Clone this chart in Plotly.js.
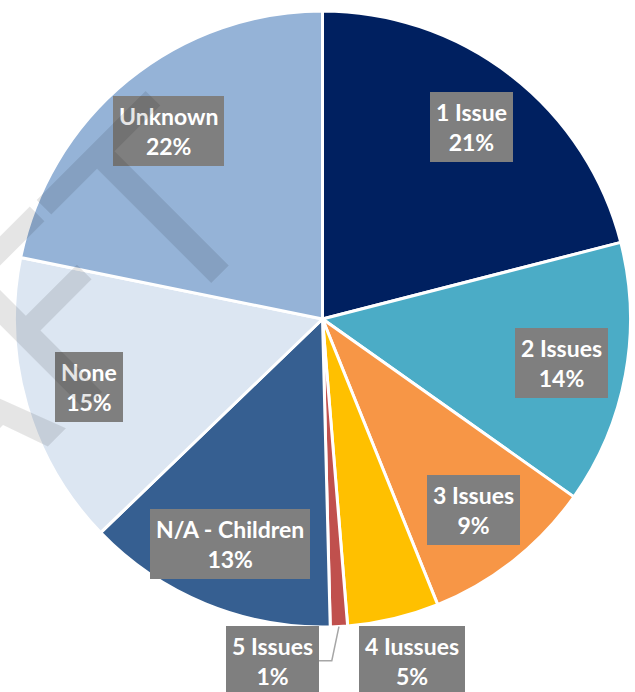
<!DOCTYPE html>
<html><head><meta charset="utf-8">
<script src="https://cdn.plot.ly/plotly-3.0.1.min.js"></script>
<style>html,body{margin:0;padding:0;background:#fff;overflow:hidden}</style>
</head><body><div id="chart" style="width:635px;height:692px"></div>
<script>
const categories = ["1 Issue", "2 Issues", "3 Issues", "4 Iussues", "5 Issues", "N/A - Children", "None", "Unknown"];
const values = [21.0, 13.8, 9.1, 4.8, 0.9, 13.2, 15.4, 21.8];
const colors = ["#002060", "#4BACC6", "#F79646", "#FFC000", "#C0504D", "#365F91", "#DCE6F2", "#95B3D7"];
const watermarkText = "DRAFT";

const W = 635, H = 692, CX = 322.5, CY = 319, R = 308;
const px = x => x / W, py = y => 1 - y / H;
const polar = (deg, r) => [CX + r * Math.sin(deg * Math.PI / 180), CY - r * Math.cos(deg * Math.PI / 180)];

const total = values.reduce((a, b) => a + b, 0);
const annotations = [], shapes = [];
const labelFont = {family: "Lato, 'Open Sans', sans-serif", size: 23, color: "#ffffff", weight: "bold"};
let cum = 0;
values.forEach((v, i) => {
  const frac = v / total;
  const mid = (cum + frac / 2) * 360;
  cum += frac;
  const text = "<b>" + categories[i] + "<br>" + Math.round(frac * 100) + "%</b>";
  const base = {text, showarrow: false, xref: "paper", yref: "paper", bgcolor: "#7F7F7F",
                borderpad: 6, borderwidth: 0, font: labelFont, align: "center"};
  if (frac >= 0.06) {
    const [x, y] = polar(mid, 0.79 * R);
    annotations.push(Object.assign({}, base, {x: px(x), y: py(y), xanchor: "center", yanchor: "middle"}));
  } else if (frac >= 0.02) {
    const [x, y] = polar(mid, 1.14 * R);
    annotations.push(Object.assign({}, base, {x: px(x + 9), y: py(y), xanchor: "center", yanchor: "middle"}));
  } else {
    const [ex, ey] = polar(mid, 1.0 * R);
    const [kx, ky] = polar(mid + 1.5, 1.11 * R);
    const bx = kx - 13;
    shapes.push({type: "path", xref: "paper", yref: "paper",
      path: `M ${px(ex)} ${py(ey)} L ${px(kx)} ${py(ky)} L ${px(bx)} ${py(ky)}`,
      line: {color: "#A6A6A6", width: 1.5}});
    annotations.push(Object.assign({}, base, {x: px(bx), y: py(ky), xanchor: "right", yanchor: "middle"}));
  }
});

annotations.push({text: watermarkText, showarrow: false, xref: "paper", yref: "paper",
  x: px(-77), y: py(448), xanchor: "center", yanchor: "middle", textangle: -45,
  font: {family: "DejaVu Sans", size: 250, color: "rgba(0,0,0,0.1)"}});

const data = [{
  type: "pie", labels: categories, values: values, sort: false, direction: "clockwise", rotation: 0,
  marker: {colors: colors, line: {color: "#ffffff", width: 3}},
  textinfo: "none", hoverinfo: "label+percent",
  domain: {x: [px(CX - R), px(CX + R)], y: [py(CY + R), py(CY - R)]}
}];

const layout = {width: W, height: H, margin: {l: 0, r: 0, t: 0, b: 0}, showlegend: false,
  paper_bgcolor: "#ffffff", annotations, shapes};

Plotly.newPlot("chart", data, layout, {displayModeBar: false, staticPlot: true});
</script>
</body></html>
